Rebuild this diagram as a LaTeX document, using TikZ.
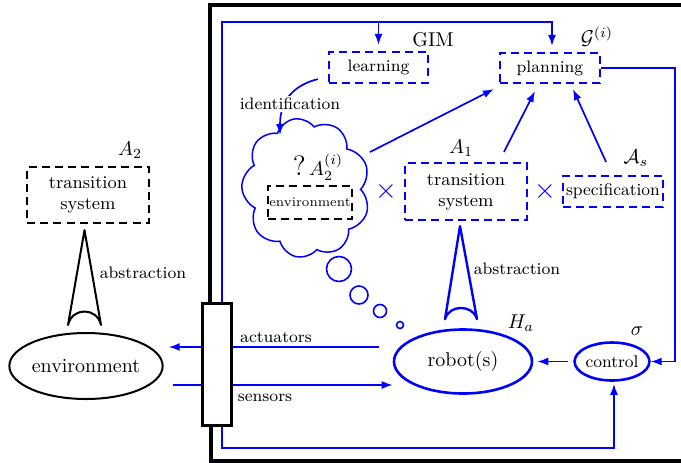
\RequirePackage{fix-cm}
\documentclass[tikz,border=0pt]{standalone}
\usepackage{fontspec}
\usetikzlibrary{shapes.geometric,shapes.symbols,arrows.meta}
\begin{document}
\begin{tikzpicture}[x=0.5pt,y=-0.5pt,
  conn/.style={draw=blue, line width=0.85pt},
  arr/.style={conn, -{Latex[length=5.5pt,width=4pt]}},
  dbox/.style={rectangle, draw=blue, line width=1.1pt, dash pattern=on 4pt off 2.6pt, inner sep=0pt, align=center},
  kbox/.style={dbox, draw=black},
  lbl/.style={inner sep=1pt, font=\fontsize{8.3}{10}\selectfont},
  mlbl/.style={inner sep=0pt, font=\fontsize{10}{12}\selectfont},
  cross/.style={inner sep=0pt, text=blue, font=\fontsize{14}{14}\selectfont},
  frame/.style={draw=black, line width=1.7pt},
  bubble/.style={draw=blue, line width=0.8pt}]
\path[use as bounding box, clip] (0,0) rectangle (681,462);

% ---- boxes of the planning layer ----
\node[dbox, minimum width=49.5pt, minimum height=15.5pt, font=\fontsize{8.3}{10}\selectfont] (learning) at (378.5,67.5) {learning};
\node[dbox, minimum width=50pt, minimum height=15pt, font=\fontsize{8.3}{10}\selectfont] (planning) at (550,68) {planning};
\node[dbox, minimum width=61pt, minimum height=28.5pt, font=\fontsize{9}{10.5}\selectfont] (ts1) at (466,191.5) {transition\\system};
\node[dbox, minimum width=50pt, minimum height=15.5pt, font=\fontsize{8.5}{10}\selectfont] (spec) at (613,191.5) {specification};
\node[kbox, minimum width=61pt, minimum height=28pt, font=\fontsize{9}{10.5}\selectfont] (ts2) at (88,195) {transition\\system};

% ---- the guessed environment model ----
\node[cloud, draw=blue, line width=0.75pt, cloud puffs=9, cloud puff arc=125, cloud ignores aspect,
      minimum width=64pt, minimum height=70pt, inner sep=0pt, rotate=10] (cloud) at (306,188) {};
\node[kbox, minimum width=42pt, minimum height=16.5pt, font=\fontsize{6.6}{7}\selectfont] (envbox) at (310,202.5) {environment};
\node[anchor=base, inner sep=0pt, font=\fontsize{10}{12}\selectfont] (guess) at (318,175) {{\fontsize{14}{14}\selectfont ?}\,$A_2^{(i)}$};

\node[cross] (x1) at (386,191) {$\times$};
\node[cross] (x2) at (545,191) {$\times$};

% ---- thought bubbles ----
\node[circle, bubble, minimum size=12.5pt, inner sep=0pt] (b1) at (339,269) {};
\node[circle, bubble, minimum size=9pt, inner sep=0pt] (b2) at (359,295) {};
\node[circle, bubble, minimum size=6.5pt, inner sep=0pt] (b3) at (380,311) {};
\node[circle, bubble, minimum size=3.5pt, inner sep=0pt] (b4) at (400,325) {};

% ---- physical layer ----
\node[ellipse, draw=blue, line width=1.3pt, minimum width=69pt, minimum height=32pt, inner sep=0pt,
      font=\fontsize{10}{12}\selectfont] (robot) at (463,361.5) {robot(s)};
\node[ellipse, draw=blue, line width=1.3pt, minimum width=34pt, minimum height=19pt, inner sep=0pt,
      font=\fontsize{8.5}{10}\selectfont] (control) at (612,361.5) {control};
\node[ellipse, draw=black, line width=1pt, minimum width=74pt, minimum height=33pt, inner sep=0pt,
      font=\fontsize{10}{12}\selectfont] (env) at (86,366) {environment};

% ---- labels ----
\node[mlbl] (gim) at (433,40) {GIM};
\node[mlbl] (gi) at (597,37) {$\mathcal{G}^{(i)}$};
\node[mlbl] (a1) at (461,148) {$A_1$};
\node[mlbl] (as) at (636,158) {$\mathcal{A}_s$};
\node[mlbl] (a2) at (130,150) {$A_2$};
\node[mlbl] (ha) at (521,323) {$H_a$};
\node[mlbl] (sig) at (637,331) {$\sigma$};
\node[lbl] (abs1) at (517,269) {abstraction};
\node[lbl] (abs2) at (143,273) {abstraction};
\node[lbl] (act) at (276,337) {actuators};
\node[lbl] (sen) at (265,398) {sensors};

% ---- actuators and sensors (pass under the interface) ----
\coordinate (a0) at ([shift={(-7pt,7.25pt)}]robot.west);
\draw[arr, shorten >=2.5pt] (a0) -- (a0 -| env.east);
\coordinate (sy) at (0,385);
\coordinate (s0) at ([xshift=4.5pt]env.east);
\draw[arr] (s0 |- sy) -- (robot.west |- sy);

% ---- interface and frame ----
\node[rectangle, draw=black, fill=white, line width=1.5pt, minimum width=14.5pt, minimum height=61pt, inner sep=0pt] (iface) at (216.5,364) {};
\draw[frame] (iface.north -| 210,0) -- (210,5) -- (700,5);
\draw[frame] (iface.south -| 211,0) -- (211,461) -- (700,461);

% ---- feedback loops ----
\coordinate (ty) at (0,22);
\coordinate (by) at (0,448);
\coordinate (rx) at (675,0);
\draw[arr] ([xshift=2.75pt]iface.north) |- ([xshift=1pt]planning.north |- ty) -- ([xshift=1pt,yshift=3pt]planning.north);
\draw[arr] (learning.north |- ty) -- ([yshift=3pt]learning.north);
\draw[arr] (planning.east) -| (rx |- control.east) -- (control.east);
\draw[arr, shorten <=2.5pt, shorten >=2pt] (control) -- (robot);
\draw[arr] ([xshift=2.75pt]iface.south) |- ([xshift=1pt]by -| control.south) -- ([xshift=1pt,yshift=-1pt]control.south);

% ---- into planning ----
\coordinate (cl) at (370,152);
\draw[arr] (cl) -- ([xshift=-2.5pt,yshift=-2.5pt]planning.south west);
\draw[arr] ([xshift=19pt,yshift=5pt]ts1.north) -- ([xshift=-7.5pt,yshift=-3.5pt]planning.south);
\draw[arr] ([xshift=-3.5pt,yshift=6.5pt]spec.north) -- ([xshift=11.5pt,yshift=-2.5pt]planning.south);

% ---- identification ----
\coordinate (idend) at (280,135);
\draw[arr] ([xshift=-5pt,yshift=2.5pt]learning.south west) .. controls +(-24,6) and +(0,-35) .. (idend);
\node[lbl, fill=white] (ident) at (290,104) {identification};

% ---- abstraction symbols ----
\draw[black, line width=1pt, line join=round]
  ([xshift=7.5pt,yshift=3.5pt]env.north) -- ([xshift=-1.75pt,yshift=-3pt]ts2.south)
  -- ([xshift=-9pt,yshift=3.5pt]env.north)
  .. controls +(4,-18) and +(-4,-18) .. ([xshift=7.5pt,yshift=3.5pt]env.north) -- cycle;
\draw[blue, line width=1.2pt, line join=round]
  ([xshift=7pt,yshift=4.5pt]robot.north) -- ([xshift=-3pt,yshift=-2.5pt]ts1.south)
  -- ([xshift=-9pt,yshift=4.5pt]robot.north)
  .. controls +(4,-15) and +(-4,-15) .. ([xshift=7pt,yshift=4.5pt]robot.north) -- cycle;
\end{tikzpicture}
\end{document}
